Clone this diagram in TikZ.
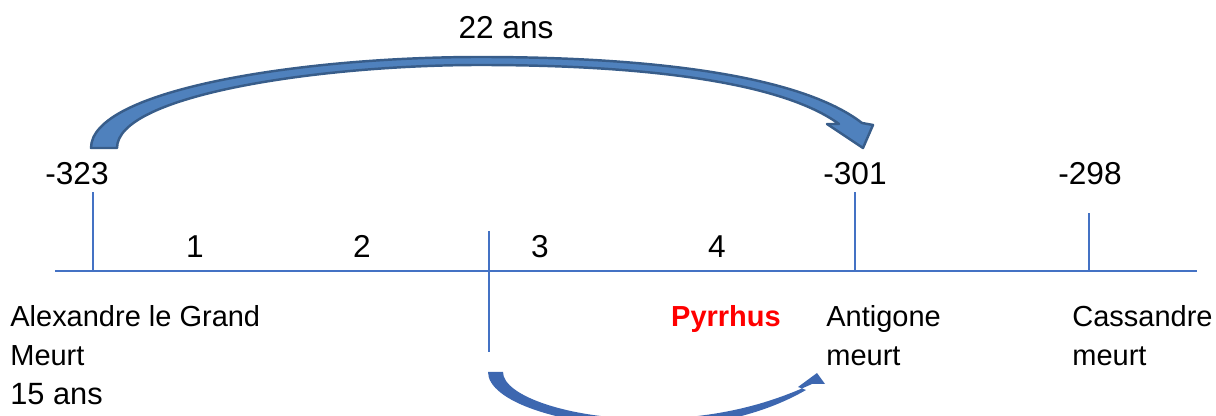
\documentclass[tikz,border=0pt]{standalone}
\usepackage{fontspec}
\setmainfont{Liberation Sans}
\usepackage{tikz}
\usetikzlibrary{arrows.meta, calc}
\definecolor{axisblue}{RGB}{68,114,196}
\definecolor{arrowfill}{RGB}{79,129,189}
\definecolor{arrowedge}{RGB}{56,93,138}
\definecolor{pyrred}{RGB}{255,0,0}

\begin{document}
\begin{tikzpicture}[scale=1,
    year/.style={anchor=base, font=\fontsize{18}{21}\selectfont},
    event/.style={anchor=base west, inner xsep=0pt, font=\fontsize{16.5}{19}\selectfont},
    tick/.style={draw=axisblue, line width=0.8pt}]
  \useasboundingbox (0,0) rectangle (24.32,8.32);
  % time axis and ticks
  \coordinate (ax0) at (1.10,2.90);
  \coordinate (ax1) at (23.94,2.90);
  \coordinate (a323) at (1.86,2.90);
  \coordinate (a301) at (17.10,2.90);
  \coordinate (a298) at (21.78,2.90);
  \coordinate (mtop) at (9.78,3.70);
  \coordinate (mbot) at (9.78,1.28);
  \draw[tick] (ax0) -- (ax1);
  \draw[tick] (a323) -- ++(0,1.58);
  \draw[tick] (a301) -- ++(0,1.58);
  \draw[tick] (a298) -- ++(0,1.16);
  \draw[tick] (mtop) -- (mbot);
  % dates and counts
  \node[year] (y323) at (1.54,4.62) {-323};
  \node[year] (y301) at (17.10,4.62) {-301};
  \node[year] (y298) at (21.80,4.62) {-298};
  \node[year] (n1) at (3.90,3.16) {1};
  \node[year] (n2) at (7.24,3.16) {2};
  \node[year] (n3) at (10.80,3.16) {3};
  \node[year] (n4) at (14.34,3.16) {4};
  \node[year] (span) at (10.12,7.54) {22 ans};
  % events
  \node[event] (alex) at (0.20,1.78) {Alexandre le Grand};
  \node[event] (alexm) at (0.20,1.00) {Meurt};
  \node[event, font=\fontsize{17.5}{20}\selectfont] (age) at (0.20,0.22) {15 ans};
  \node[anchor=base, font=\fontsize{16.5}{19}\selectfont\bfseries, text=pyrred] (pyr) at (14.52,1.78) {Pyrrhus};
  \node[event] (anti) at (16.52,1.78) {Antigone};
  \node[event] (antim) at (16.52,1.00) {meurt};
  \node[event] (cass) at (21.44,1.78) {Cassandre};
  \node[event] (cassm) at (21.44,1.00) {meurt};
  % big curved arrow
  \draw[fill=arrowfill, draw=arrowedge, line width=1.4pt, line join=round]
    (1.82,5.36) .. controls (1.82,6.52) and (6.0,7.18) .. (9.6,7.18)
    .. controls (13.0,7.18) and (16.0,6.82) .. (17.24,5.86)
    -- (17.46,5.82) -- (17.26,5.36) -- (16.54,5.84) -- (16.78,5.84)
    .. controls (15.6,6.70) and (12.8,7.02) .. (9.6,7.02)
    .. controls (6.4,7.02) and (2.34,6.42) .. (2.34,5.36) -- cycle;
  % small curved arrow
  \fill[axisblue!90!black]
    (9.76,0.88) .. controls (9.76,0.30) and (11.2,-0.20) .. (13.0,-0.22)
    .. controls (14.6,-0.22) and (15.6,0.22) .. (16.12,0.52)
    -- (15.96,0.58) -- (16.34,0.86) -- (16.50,0.64) -- (16.24,0.64)
    .. controls (15.5,0.30) and (14.5,-0.04) .. (13.0,-0.06)
    .. controls (11.4,-0.06) and (10.06,0.40) .. (10.06,0.88) -- cycle;
\end{tikzpicture}
\end{document}
